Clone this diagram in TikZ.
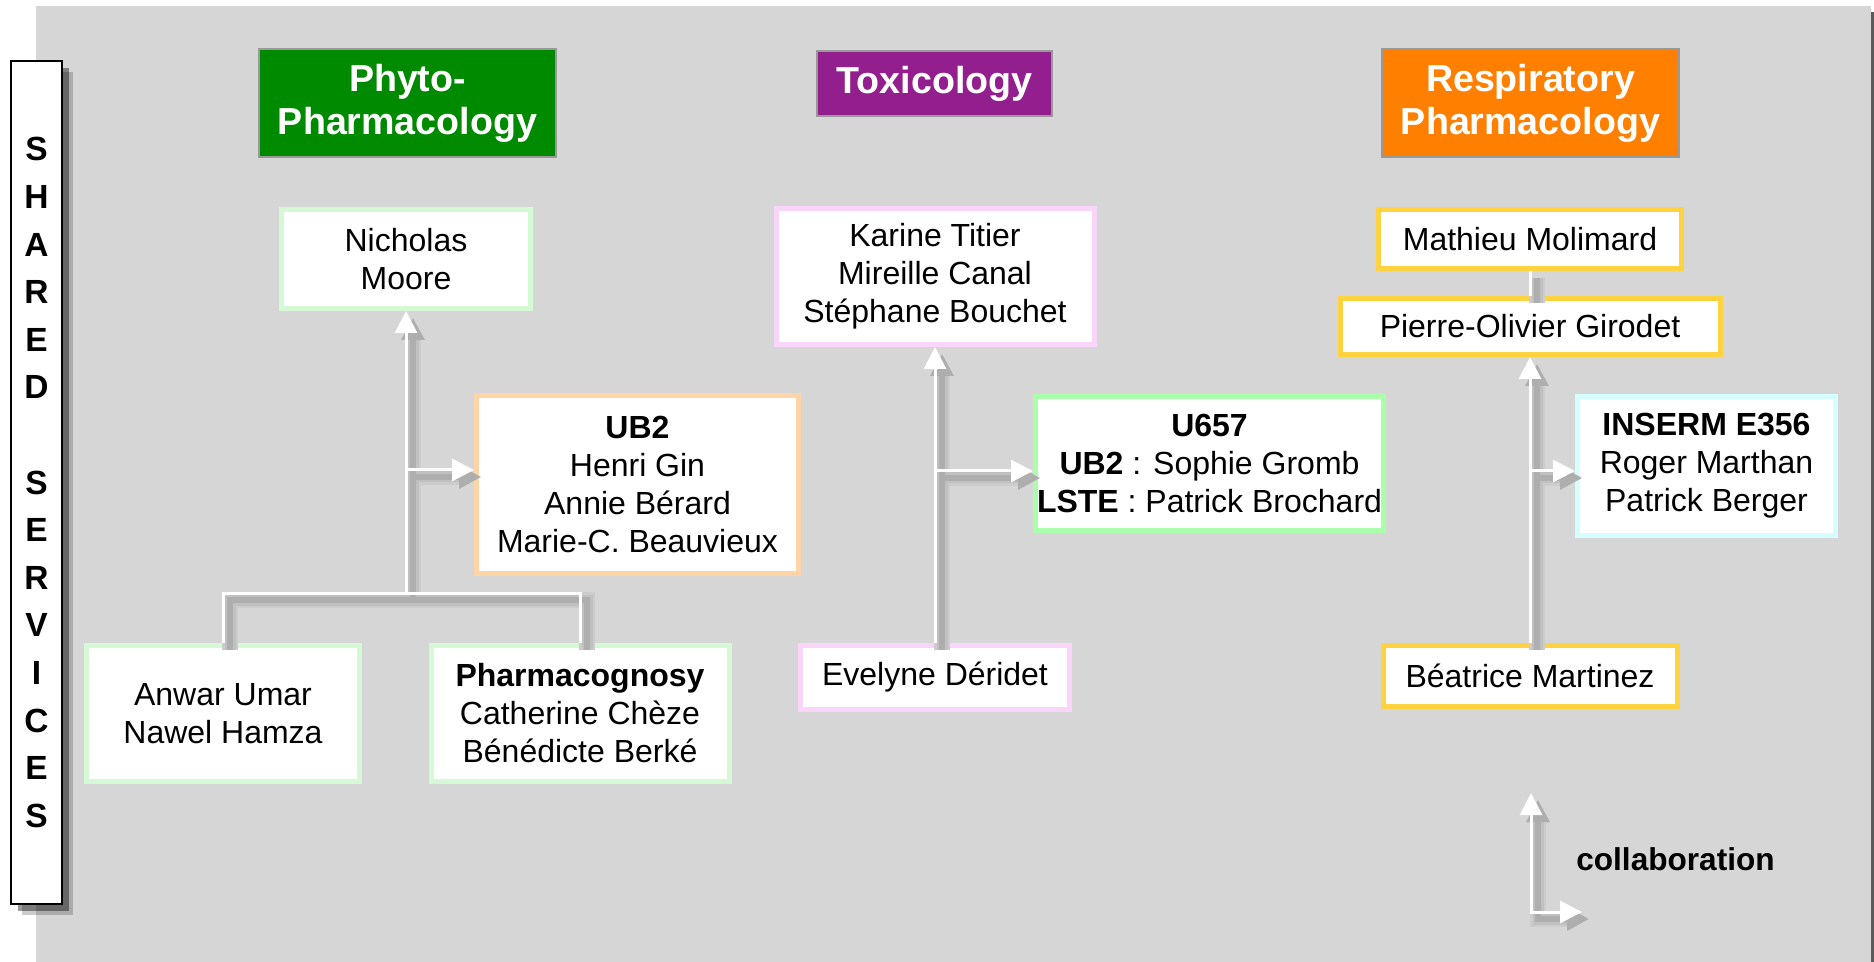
\documentclass[tikz,border=0pt]{standalone}
\usepackage{fontspec}
\setmainfont{Liberation Sans}
\usepackage{xcolor}
\usepackage{tikz}
\usetikzlibrary{arrows.meta, shadows, calc}

\definecolor{bggray}{HTML}{D6D6D6}
\definecolor{bgshadow}{HTML}{5A5A5A}
\definecolor{phytogreen}{HTML}{008A00}
\definecolor{toxpurple}{HTML}{931F8E}
\definecolor{respiorange}{HTML}{FF7F00}
\definecolor{titleborder}{HTML}{999999}
\definecolor{palegreen}{HTML}{D5F9D5}
\definecolor{paleorange}{HTML}{FFD5A8}
\definecolor{palepink}{HTML}{F9D5F9}
\definecolor{midgreen}{HTML}{AAFFAA}
\definecolor{gold}{HTML}{FFD33F}
\definecolor{palecyan}{HTML}{D5FFFF}
\definecolor{shadowlight}{HTML}{CCCCCC}
\definecolor{shadowgray}{HTML}{C0C0C0}
\definecolor{shadowdark}{HTML}{AEAEAE}

\tikzset{
  member/.style={draw=#1, line width=2.5pt, fill=white, inner sep=0pt, align=center,
    font=\fontsize{16pt}{19pt}\selectfont},
  theme/.style={draw=titleborder, line width=1pt, fill=#1, text=white, inner sep=0pt, align=center,
    font=\fontsize{18.8pt}{21.5pt}\selectfont\bfseries},
  pointer/.style={-{Triangle[length=11pt,width=11pt]}},
  linkshadow/.style={line width=#1, transform canvas={shift={(3.5pt,-3.5pt)}}},
}

% every connector, drawn once per layer (shadows, then white)
\newcommand\collablinks{%
  % phyto-pharmacology
  \draw[pointer] (phyjoin) -- (moore.south);
  \draw[pointer] (phybranch) -- (phybranch -| ub2.west);
  \draw (anwar.north) |- (phyjoin) -| (pharmacog.north);
  % toxicology
  \draw[pointer] (evelyne.north) -- (karine.south);
  \draw[pointer] (toxbranch) -- (toxbranch -| u657.west);
  % respiratory pharmacology
  \draw[pointer] (beatrice.north) -- (pierre.south);
  \draw (pierre.north) -- (mathieu.south);
  \draw[pointer] (resbranch) -- (resbranch -| inserm.west);
  % legend
  \draw[{Triangle[length=11pt,width=11pt]}-{Triangle[length=11pt,width=11pt]}] (legup) |- (legright);
}

\begin{document}
\begin{tikzpicture}[x=0.5pt,y=-0.5pt]
  \useasboundingbox (0,0) rectangle (1874,962);

  % backdrop
  \fill[bgshadow] (42,12) rectangle (1880,970);
  \fill[bggray] (36,6) rectangle (1871,962);

  % shared services
  \node[draw=black, line width=1pt, fill=white, inner sep=0pt, minimum width=25.5pt, minimum height=421.5pt,
    align=center, font=\fontsize{16.75pt}{23.8pt}\selectfont\bfseries,
    general shadow={fill=black, opacity=.2, shadow xshift=5.5pt, shadow yshift=-5.5pt},
    general shadow={fill=black, opacity=.4, shadow xshift=3.5pt, shadow yshift=-3.5pt}] (shared) at (36.5,482.5)
    {S\\H\\A\\R\\E\\D\\[23.8pt]S\\E\\R\\V\\I\\C\\E\\S};

  % themes
  \node[theme=phytogreen, minimum width=148.5pt, minimum height=54pt] (phyto) at (407.5,103) {Phyto-\\Pharmacology};
  \node[theme=toxpurple, minimum width=117.5pt, minimum height=32.5pt] (toxico) at (934.5,83.5) {Toxicology};
  \node[theme=respiorange, minimum width=148.5pt, minimum height=54pt] (respi) at (1530.5,103) {Respiratory\\Pharmacology};

  % phyto-pharmacology
  \node[member=palegreen, minimum width=124.5pt, minimum height=49.5pt] (moore) at (406,259) {Nicholas\\Moore};
  \node[member=paleorange, minimum width=161pt, minimum height=89pt] (ub2) at (637.5,484.5)
    {\textbf{UB2}\\Henri Gin\\Annie Bérard\\Marie-C. Beauvieux};
  \node[member=palegreen, minimum width=136.5pt, minimum height=68pt] (anwar) at (223,713.5) {Anwar Umar\\Nawel Hamza};
  \node[member=palegreen, minimum width=149pt, minimum height=68pt] (pharmacog) at (580,713.5)
    {\textbf{Pharmacognosy}\\Catherine Chèze\\Bénédicte Berké};

  % toxicology
  \node[member=palepink, minimum width=159pt, minimum height=68pt] (karine) at (935,276.5)
    {Karine Titier\\Mireille Canal\\Stéphane Bouchet};
  \node[member=midgreen, minimum width=174pt, minimum height=67pt] (u657) at (1209.5,463.5)
    {\textbf{U657}\\\textbf{UB2} : Sophie Gromb\\\textbf{LSTE} : Patrick Brochard};
  \node[member=palepink, minimum width=134.5pt, minimum height=32pt] (evelyne) at (935,677.5) {Evelyne Déridet};

  % respiratory pharmacology
  \node[member=gold, minimum width=151.5pt, minimum height=29.5pt] (mathieu) at (1530,239) {Mathieu Molimard};
  \node[member=gold, minimum width=190pt, minimum height=28pt] (pierre) at (1530,326.5) {Pierre-Olivier Girodet};
  \node[member=palecyan, minimum width=129pt, minimum height=69.5pt] (inserm) at (1706.5,466)
    {\textbf{INSERM E356}\\Roger Marthan\\Patrick Berger};
  \node[member=gold, minimum width=147pt, minimum height=30.5pt] (beatrice) at (1530,676) {Béatrice Martinez};

  % junctions
  \coordinate (phyjoin) at (406,593);
  \coordinate (phybranch) at (406,470);
  \coordinate (toxbranch) at (935,471);
  \coordinate (resbranch) at (1530,471);
  \coordinate (legup) at (1531,793);
  \coordinate (legright) at (1582,912);

  \node[inner sep=0pt, font=\fontsize{15.8pt}{19pt}\selectfont\bfseries] (collab) at (1675.5,859) {collaboration};

  % connectors
  \begin{scope}[shadowlight, linkshadow=8pt]
    \collablinks
  \end{scope}
  \begin{scope}[shadowgray, linkshadow=5.5pt]
    \collablinks
  \end{scope}
  \begin{scope}[shadowdark, linkshadow=3pt]
    \collablinks
  \end{scope}
  \begin{scope}[white, line width=1.5pt]
    \collablinks
  \end{scope}
\end{tikzpicture}
\end{document}
